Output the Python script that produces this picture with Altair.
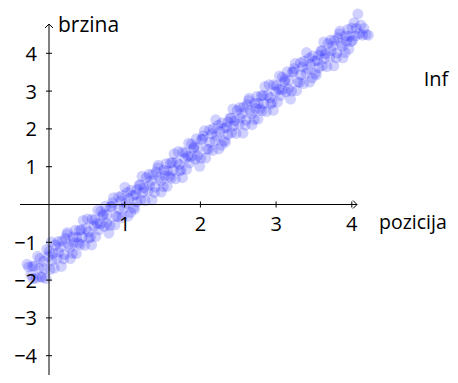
import altair as alt
import pandas as pd

# ---- scatter data ----
px = [-0.29, -0.27, -0.24, -0.22, -0.21,
      -0.19, -0.17, -0.15, -0.13, -0.12, -0.11,
      -0.09, -0.07, -0.06, -0.04, -0.03, -0.01,
      0.004, 0.013, 0.029, 0.038, 0.052, 0.071, 0.086,
      0.108, 0.121, 0.127, 0.149, 0.163, 0.169, 0.194,
      0.202, 0.218, 0.235, 0.244, 0.257, 0.278, 0.283,
      0.311, 0.316, 0.332, 0.347, 0.361, 0.366, 0.391,
      0.404, 0.413, 0.429, 0.438, 0.452, 0.471, 0.486,
      0.508, 0.521, 0.527, 0.549, 0.563, 0.569, 0.594,
      0.602, 0.618, 0.635, 0.644, 0.657, 0.678, 0.683,
      0.711, 0.716, 0.732, 0.747, 0.761, 0.766, 0.791,
      0.804, 0.813, 0.829, 0.838, 0.852, 0.871, 0.886,
      0.908, 0.921, 0.927, 0.949, 0.963, 0.969, 0.994,
      1.002, 1.018, 1.035, 1.044, 1.057, 1.078, 1.083,
      1.111, 1.116, 1.132, 1.147, 1.161, 1.166, 1.191,
      1.204, 1.213, 1.229, 1.238, 1.252, 1.271, 1.286,
      1.308, 1.321, 1.327, 1.349, 1.363, 1.369, 1.394,
      1.402, 1.418, 1.435, 1.444, 1.457, 1.478, 1.483,
      1.511, 1.516, 1.532, 1.547, 1.561, 1.566, 1.591,
      1.604, 1.613, 1.629, 1.638, 1.652, 1.671, 1.686,
      1.708, 1.721, 1.727, 1.749, 1.763, 1.769, 1.794,
      1.802, 1.818, 1.835, 1.844, 1.857, 1.878, 1.883,
      1.911, 1.916, 1.932, 1.947, 1.961, 1.966, 1.991,
      2.004, 2.013, 2.029, 2.038, 2.052, 2.071, 2.086,
      2.108, 2.121, 2.127, 2.149, 2.163, 2.169, 2.194,
      2.202, 2.218, 2.235, 2.244, 2.257, 2.278, 2.283,
      2.311, 2.316, 2.332, 2.347, 2.361, 2.366, 2.391,
      2.404, 2.413, 2.429, 2.438, 2.452, 2.471, 2.486,
      2.508, 2.521, 2.527, 2.549, 2.563, 2.569, 2.594,
      2.602, 2.618, 2.635, 2.644, 2.657, 2.678, 2.683,
      2.711, 2.716, 2.732, 2.747, 2.761, 2.766, 2.791,
      2.804, 2.813, 2.829, 2.838, 2.852, 2.871, 2.886,
      2.908, 2.921, 2.927, 2.949, 2.963, 2.969, 2.994,
      3.002, 3.018, 3.035, 3.044, 3.057, 3.078, 3.083,
      3.111, 3.116, 3.132, 3.147, 3.161, 3.166, 3.191,
      3.204, 3.213, 3.229, 3.238, 3.252, 3.271, 3.286,
      3.308, 3.321, 3.327, 3.349, 3.363, 3.369, 3.394,
      3.402, 3.418, 3.435, 3.444, 3.457, 3.478, 3.483,
      3.511, 3.516, 3.532, 3.547, 3.561, 3.566, 3.591,
      3.604, 3.613, 3.629, 3.638, 3.652, 3.671, 3.686,
      3.708, 3.721, 3.727, 3.749, 3.763, 3.769, 3.794,
      3.802, 3.818, 3.835, 3.844, 3.857, 3.878, 3.883,
      3.911, 3.916, 3.932, 3.947, 3.961, 3.966, 3.991,
      4.00, 4.01, 4.03, 4.05, 4.06, 4.08,
      4.10, 4.12, 4.14, 4.16, 4.19, 4.22]

py = [-1.58, -1.65, -1.86, -1.63, -1.96,
      -1.63, -1.95, -1.37, -1.69, -1.43, -1.91,
      -1.93, -1.50, -1.69, -1.96, -1.19, -1.37,
      -1.24, -1.72, -0.99, -1.48, -1.30, -1.68, -1.07,
      -1.42, -0.98, -1.26, -1.13, -1.64, -0.97, -1.44,
      -1.32, -0.90, -0.79, -0.74, -1.05, -1.14, -1.43,
      -1.29, -0.86, -1.01, -0.68, -1.30, -0.87, -1.02,
      -0.68, -1.06, -0.67, -0.86, -0.42, -1.08, -0.64,
      -0.38, -0.72, -0.89, -0.86, -1.07, -0.39, -0.57,
      -0.41, -0.85, -0.50, -0.15, -0.67, -0.51, -0.18,
      -0.30, -0.25, -0.58, -0.04, -0.49, -0.28, -0.76,
      -0.55, -0.06, -0.05, 0.05, 0.18, -0.54, -0.31,
      -0.32, 0.20, -0.12, 0.09, -0.35, 0.24, -0.09,
      0.46, 0.03, 0.32, -0.31, 0.15, -0.21, 0.38,
      0.24, -0.08, -0.12, 0.26, 0.07, 0.40, 0.52,
      0.51, 0.12, 0.75, 0.31, 0.44, 0.10, 0.71,
      0.36, 0.80, 0.51, 0.63, 0.12, 0.79, 0.32,
      0.46, 0.86, 0.97, 1.04, 0.72, 0.63, 0.33,
      0.47, 0.91, 0.76, 1.08, 0.48, 0.89, 0.75,
      1.10, 0.70, 1.11, 0.90, 1.34, 0.68, 1.12,
      1.40, 1.06, 0.89, 0.92, 0.71, 1.39, 1.21,
      1.36, 0.93, 1.28, 1.62, 1.10, 1.27, 1.60,
      1.48, 1.53, 1.20, 1.74, 1.29, 1.49, 1.01,
      1.23, 1.72, 1.73, 1.82, 1.95, 1.23, 1.47,
      1.46, 1.97, 1.65, 1.87, 1.43, 2.01, 1.69,
      2.24, 1.81, 2.10, 1.47, 1.93, 1.57, 2.16,
      2.02, 1.69, 1.65, 2.04, 1.85, 2.18, 2.29,
      2.28, 1.90, 2.53, 2.08, 2.21, 1.88, 2.49,
      2.13, 2.57, 2.29, 2.41, 1.89, 2.57, 2.10,
      2.23, 2.64, 2.75, 2.81, 2.49, 2.40, 2.11,
      2.25, 2.68, 2.54, 2.86, 2.26, 2.67, 2.53,
      2.88, 2.48, 2.88, 2.67, 3.12, 2.46, 2.89,
      3.17, 2.83, 2.66, 2.70, 2.49, 3.17, 2.98,
      3.14, 2.71, 3.05, 3.40, 2.88, 3.04, 3.37,
      3.25, 3.31, 2.98, 3.51, 3.06, 3.27, 2.79,
      3.00, 3.50, 3.51, 3.60, 3.73, 3.01, 3.25,
      3.23, 3.75, 3.43, 3.64, 3.20, 3.79, 3.47,
      4.02, 3.59, 3.87, 3.24, 3.71, 3.35, 3.93,
      3.80, 3.47, 3.43, 3.81, 3.62, 3.95, 4.07,
      4.06, 3.67, 4.30, 3.86, 3.99, 3.65, 4.26,
      3.91, 4.35, 4.07, 4.19, 3.67, 4.34, 3.88,
      4.01, 4.41, 4.52, 4.59, 4.27, 4.18, 3.88,
      4.02, 4.46, 4.32, 4.63, 4.11, 4.45, 4.31,
      4.67, 4.34, 4.81, 4.46, 4.66, 5.04,
      4.52, 4.75, 4.48, 4.66, 4.50, 4.48]

# ---- axes ----
x_ticks = [1, 2, 3, 4]
x_tick_labels = ["1", "2", "3", "4"]
y_ticks = [-4, -3, -2, -1, 1, 2, 3, 4]
y_tick_labels = ["\u22124", "\u22123", "\u22122", "\u22121", "1", "2", "3", "4"]
x_axis_extent = [-0.383, 4.069]
y_axis_top = 4.775
x_title = "pozicija"
y_title = "brzina"
side_text = "Inf"
side_pos = [4.95, 3.13]

W, H = 442, 367
x_dom = [-41 / 75.7, (W - 41) / 75.7]
y_dom = [-(H - 196.5) / 37.8, 196.5 / 37.8]

FONT = "Open Sans"
FS = 20
FT = 21

xs = alt.Scale(domain=x_dom, nice=False, zero=False)
ys = alt.Scale(domain=y_dom, nice=False, zero=False)

pts = pd.DataFrame({"x": px, "y": py})
points = alt.Chart(pts).mark_circle(size=120, color="#0000ff", opacity=0.18).encode(
    x=alt.X("x:Q", scale=xs, axis=None),
    y=alt.Y("y:Q", scale=ys, axis=None),
)

xaxis_df = pd.DataFrame({"x": [x_axis_extent[0]], "x2": [x_axis_extent[1]], "y": [0]})
xaxis = alt.Chart(xaxis_df).mark_rule(color="black", strokeWidth=1).encode(
    x=alt.X("x:Q", scale=xs, axis=None), x2="x2:Q", y=alt.Y("y:Q", scale=ys, axis=None)
)
yaxis_df = pd.DataFrame({"x": [0], "y": [y_dom[0]], "y2": [y_axis_top]})
yaxis = alt.Chart(yaxis_df).mark_rule(color="black", strokeWidth=1).encode(
    x=alt.X("x:Q", scale=xs, axis=None), y=alt.Y("y:Q", scale=ys, axis=None), y2="y2:Q"
)

xarrow = alt.Chart(pd.DataFrame({"x": [x_axis_extent[1]], "y": [0]})).mark_point(
    shape="M-1,-1L0,0L-1,1", size=64, filled=False, color="black", strokeWidth=1, opacity=1
).encode(x=alt.X("x:Q", scale=xs, axis=None), y=alt.Y("y:Q", scale=ys, axis=None))
yarrow = alt.Chart(pd.DataFrame({"x": [0], "y": [y_axis_top]})).mark_point(
    shape="M-1,1L0,0L1,1", size=64, filled=False, color="black", strokeWidth=1, opacity=1
).encode(x=alt.X("x:Q", scale=xs, axis=None), y=alt.Y("y:Q", scale=ys, axis=None))

xt_df = pd.DataFrame({"x": x_ticks, "y": [0] * len(x_ticks), "label": x_tick_labels})
xticks = alt.Chart(xt_df).mark_rule(color="black", strokeWidth=1, yOffset=-3, y2Offset=3).encode(
    x=alt.X("x:Q", scale=xs, axis=None), y=alt.Y("y:Q", scale=ys, axis=None), y2="y:Q"
)
xlabels = alt.Chart(xt_df).mark_text(
    font=FONT, fontSize=FS, color="black", align="center", baseline="alphabetic", dy=26
).encode(x=alt.X("x:Q", scale=xs, axis=None), y=alt.Y("y:Q", scale=ys, axis=None), text="label:N")

yt_df = pd.DataFrame({"x": [0] * len(y_ticks), "y": y_ticks, "label": y_tick_labels})
yticks = alt.Chart(yt_df).mark_rule(color="black", strokeWidth=1, xOffset=-3, x2Offset=3).encode(
    x=alt.X("x:Q", scale=xs, axis=None), x2="x:Q", y=alt.Y("y:Q", scale=ys, axis=None)
)
ylabels = alt.Chart(yt_df).mark_text(
    font=FONT, fontSize=FS, color="black", align="right", baseline="alphabetic", dx=-12, dy=7.5
).encode(x=alt.X("x:Q", scale=xs, axis=None), y=alt.Y("y:Q", scale=ys, axis=None), text="label:N")

ytitle = alt.Chart(pd.DataFrame({"x": [0], "y": [y_axis_top], "t": [y_title]})).mark_text(
    font=FONT, fontSize=FT, color="black", align="left", baseline="alphabetic", dx=9, dy=8
).encode(x=alt.X("x:Q", scale=xs, axis=None), y=alt.Y("y:Q", scale=ys, axis=None), text="t:N")
xtitle = alt.Chart(pd.DataFrame({"x": [x_axis_extent[1]], "y": [0], "t": [x_title]})).mark_text(
    font=FONT, fontSize=19.5, color="black", align="left", baseline="alphabetic", dx=22, dy=24
).encode(x=alt.X("x:Q", scale=xs, axis=None), y=alt.Y("y:Q", scale=ys, axis=None), text="t:N")
side = alt.Chart(pd.DataFrame({"x": [side_pos[0]], "y": [side_pos[1]], "t": [side_text]})).mark_text(
    font=FONT, fontSize=FS, color="black", align="left", baseline="alphabetic"
).encode(x=alt.X("x:Q", scale=xs, axis=None), y=alt.Y("y:Q", scale=ys, axis=None), text="t:N")

chart = alt.layer(
    points, xaxis, yaxis, xarrow, yarrow, xticks, yticks, xlabels, ylabels, ytitle, xtitle, side
).properties(
    width=W, height=H, padding=0, autosize=alt.AutoSizeParams(type="none"),
    background="white",
).configure_view(stroke=None)

chart.save("out.html", embed_options={"renderer": "svg", "actions": False})
